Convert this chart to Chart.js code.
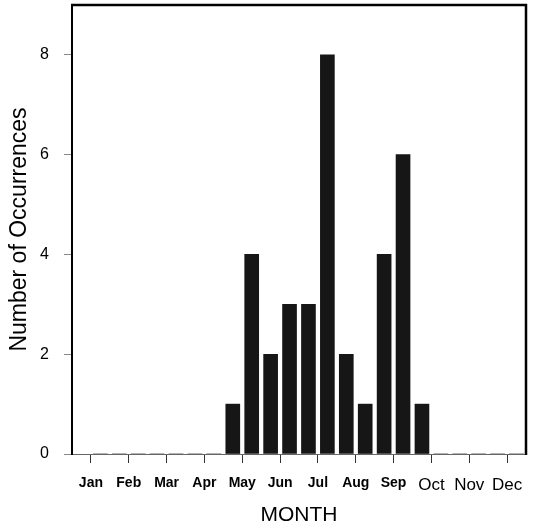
<!DOCTYPE html>
<html>
<head>
<meta charset="utf-8">
<script src="https://cdn.jsdelivr.net/npm/chart.js@4.4.1/dist/chart.umd.min.js"></script>
<style>
  html, body { margin: 0; padding: 0; background: #fff; }
  #wrap { width: 534px; height: 528px; }
</style>
</head>
<body>
<div id="wrap"><canvas id="c"></canvas></div>
<script>
const bulan = ["Jan", "Feb", "Mar", "Apr", "May", "Jun", "Jul", "Aug", "Sep", "Oct", "Nov", "Dec"];
// jumlah kejadian per setengah bulan (Jan-1, Jan-2, Feb-1, ...)
const jumlahSetengahBulan = [0, 0, 0, 0, 0, 0, 0, 1, 4, 2, 3, 3, 8, 2, 1, 4, 6, 1, 0, 0, 0, 0, 0, 0];
const tickY = [0, 2, 4, 6, 8];
const bulanTipisBesar = ["Oct", "Nov", "Dec"];

const titikBar = jumlahSetengahBulan.map((n, i) => ({ x: i / 2 + 0.25, y: n }));

// garis bingkai atas dan kanan
const bingkai = {
  id: "bingkai",
  afterDraw(chart) {
    const { ctx, chartArea: a } = chart;
    ctx.save();
    ctx.strokeStyle = "#000";
    ctx.lineWidth = 2.5;
    ctx.beginPath();
    ctx.moveTo(a.left - 1, a.top);
    ctx.lineTo(a.right, a.top);
    ctx.lineTo(a.right, a.bottom + 1);
    ctx.stroke();
    ctx.restore();
  }
};

new Chart(document.getElementById("c"), {
  type: "bar",
  data: {
    datasets: [{
      data: titikBar,
      backgroundColor: "#161616",
      borderWidth: 0,
      barThickness: 14
    }]
  },
  options: {
    responsive: true,
    maintainAspectRatio: false,
    animation: false,
    layout: { padding: { top: 5, right: 8, left: 0, bottom: 0 } },
    plugins: { legend: { display: false }, tooltip: { enabled: false } },
    scales: {
      x: {
        type: "linear",
        min: -0.5,
        max: 11.5,
        offset: false,
        afterFit: s => { s.height = 74; s.paddingLeft = 0; s.paddingRight = 0; },
        afterBuildTicks: s => { s.ticks = bulan.map((b, i) => ({ value: i })); },
        grid: { offset: false, drawOnChartArea: false, tickLength: 9, color: "#333", lineWidth: 1 },
        border: { color: "#666", width: 1 },
        ticks: {
          padding: 12,
          color: "#000",
          maxRotation: 0,
          autoSkip: false,
          callback: v => bulan[v],
          font: c => {
            const b = bulan[c.index];
            return bulanTipisBesar.includes(b)
              ? { family: "Liberation Sans, Arial", size: 17, weight: "normal" }
              : { family: "Liberation Sans, Arial", size: 14, weight: "bold" };
          }
        },
        title: {
          display: true,
          text: "MONTH",
          color: "#000",
          font: { family: "Liberation Sans, Arial", size: 21 },
          padding: { top: 0, bottom: 0 }
        }
      },
      y: {
        min: 0,
        max: 9,
        afterFit: s => { s.width = 72; s.paddingTop = 0; s.paddingBottom = 0; },
        afterBuildTicks: s => { s.ticks = tickY.map(v => ({ value: v })); },
        grid: { drawOnChartArea: false, tickLength: 8, color: "#888", lineWidth: 1 },
        border: { color: "#000", width: 2 },
        ticks: {
          padding: 15,
          color: "#000",
          font: { family: "Liberation Sans, Arial", size: 16 }
        },
        title: {
          display: true,
          text: "Number of Occurrences",
          color: "#000",
          font: { family: "Liberation Sans, Arial", size: 23 },
          padding: { top: 6, bottom: 0 }
        }
      }
    }
  },
  plugins: [bingkai]
});
</script>
</body>
</html>
